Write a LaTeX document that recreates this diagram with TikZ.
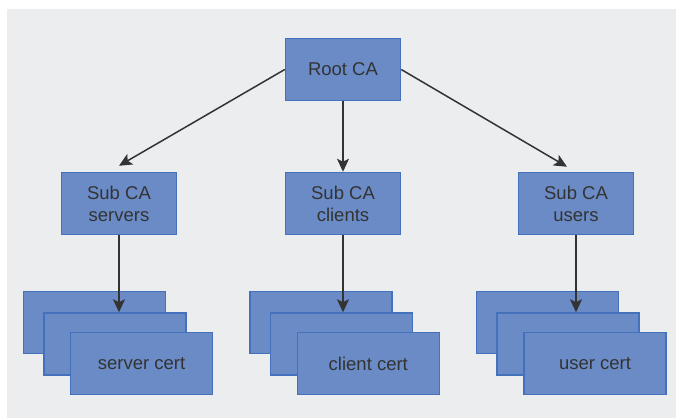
\documentclass[tikz,border=0pt]{standalone}
\usepackage{fontspec}
\setmainfont{Liberation Sans}
\usetikzlibrary{arrows.meta}

\definecolor{pagebg}{RGB}{236,237,239}
\definecolor{boxfill}{RGB}{106,139,198}
\definecolor{boxline}{RGB}{67,113,187}
\definecolor{ink}{RGB}{51,51,51}

\begin{document}
\begin{tikzpicture}[x=1bp,y=-1bp,
	ca/.style={rectangle,draw=boxline,fill=boxfill,line width=1.5bp,minimum width=115bp,minimum height=62bp,inner sep=0pt,align=center,text=ink,font=\fontsize{18.5bp}{22bp}\selectfont},
	cert/.style={ca,minimum width=142bp},
	link/.style={-{Stealth[length=13bp,width=12bp,inset=3bp]},draw=ink,line width=1.5bp}
]

	\useasboundingbox (0,0) rectangle (676,418);
	\fill[pagebg] (7,9) rectangle (676,418);

	\node[ca] (root) at (343,69.5) {Root CA};

	\node[ca] (servers) at (119,203.5) {Sub CA\\servers};
	\node[ca] (clients) at (343,203.5) {Sub CA\\clients};
	\node[ca] (users) at (576,203.5) {Sub CA\\users};

	% stacks of issued certificates, back to front
	\node[cert] (servers3) at (94.5,322.5) {};
	\node[cert] (servers2) at (114.8,344) {};
	\node[cert] (servers1) at (141.5,363.5) {server cert};

	\node[cert] (clients3) at (321,322.5) {};
	\node[cert] (clients2) at (341.5,344) {};
	\node[cert] (clients1) at (368.3,363.5) {client cert};

	\node[cert] (users3) at (547.7,322.5) {};
	\node[cert] (users2) at (568,344) {};
	\node[cert] (users1) at (595,363.5) {user cert};

	\draw[link] (root.west) -- ([yshift=6bp]servers.north);
	\draw[link] (root.south) -- (clients.north);
	\draw[link] (root.east) -- ([xshift=-9bp,yshift=5bp]users.north);

	\draw[link] (servers.south) -- (servers.south |- servers2.north);
	\draw[link] (clients.south) -- (clients.south |- clients2.north);
	\draw[link] (users.south) -- (users.south |- users2.north);

\end{tikzpicture}
\end{document}
